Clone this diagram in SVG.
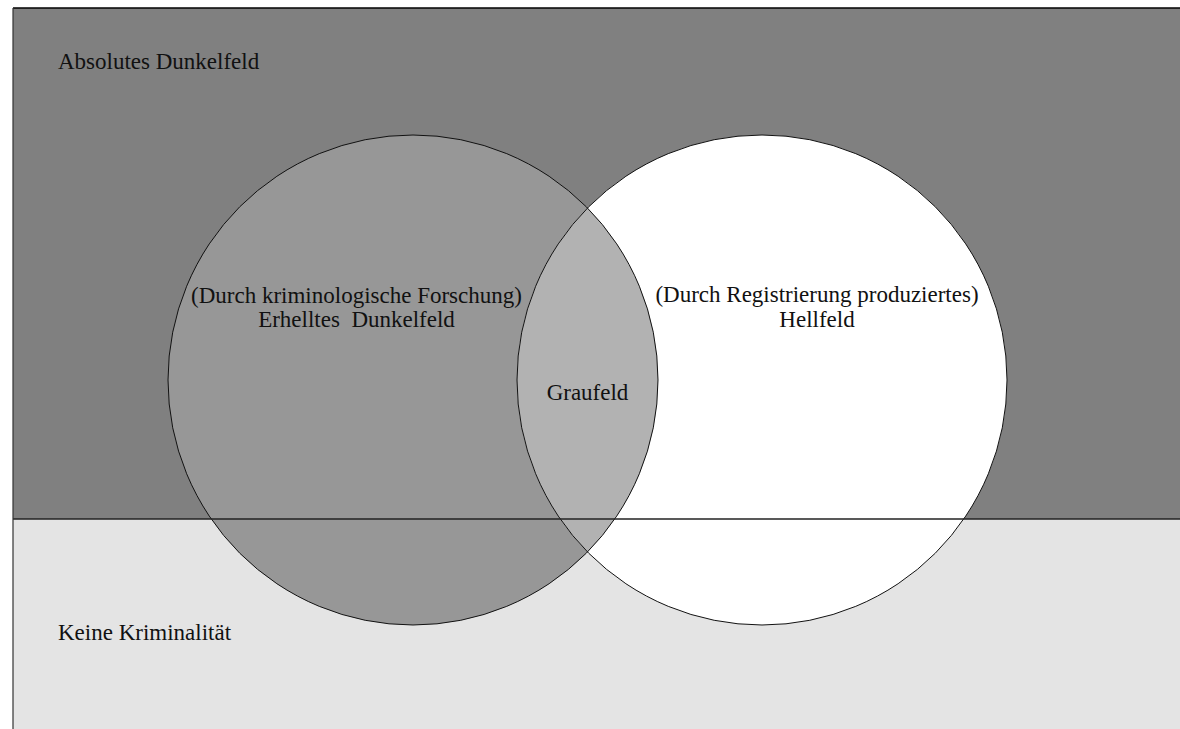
<svg xmlns="http://www.w3.org/2000/svg" width="1180" height="729" viewBox="0 0 1180 729">
<style>
.lbl{font-family:"Liberation Serif","Times New Roman",serif;font-size:23px;fill:#111}
.c{text-anchor:middle}
.ol{fill:none;stroke:#111;stroke-width:1}
</style>
<rect width="1180" height="729" fill="#ffffff"/>
<g id="absolut">
<rect x="13" y="8" width="1167" height="511" fill="#808080"/>
<text class="lbl" x="58" y="69">Absolutes Dunkelfeld</text>
</g>
<g id="keine">
<rect x="13" y="519" width="1167" height="210" fill="#e4e4e4"/>
<text class="lbl" x="58" y="640">Keine Kriminalität</text>
</g>
<g id="erhellt">
<circle cx="413" cy="380" r="245" fill="#979797"/>
</g>
<g id="hellfeld">
<circle cx="762" cy="380" r="245" fill="#ffffff"/>
</g>
<g id="graufeld">
<path d="M587.5,208.03 A245,245 0 0,1 587.5,551.97 A245,245 0 0,1 587.5,208.03 Z" fill="#b2b2b2"/>
</g>
<g id="outlines">
<circle class="ol" cx="413" cy="380" r="245"/>
<circle class="ol" cx="762" cy="380" r="245"/>
<line x1="13" y1="519" x2="1180" y2="519" stroke="#222" stroke-width="1.5"/>
<line x1="13" y1="8" x2="1180" y2="8" stroke="#000" stroke-width="1.5"/>
<line x1="13" y1="8" x2="13" y2="729" stroke="#333" stroke-width="1.2"/>
</g>
<g id="texts">
<text class="lbl c" x="356.5" y="302.5">(Durch kriminologische Forschung)</text>
<text class="lbl c" x="356.5" y="326.5" style="white-space:pre">Erhelltes  Dunkelfeld</text>
<text class="lbl c" x="817" y="302">(Durch Registrierung produziertes)</text>
<text class="lbl c" x="817" y="327">Hellfeld</text>
<text class="lbl c" x="587.5" y="400">Graufeld</text>
</g>
</svg>
